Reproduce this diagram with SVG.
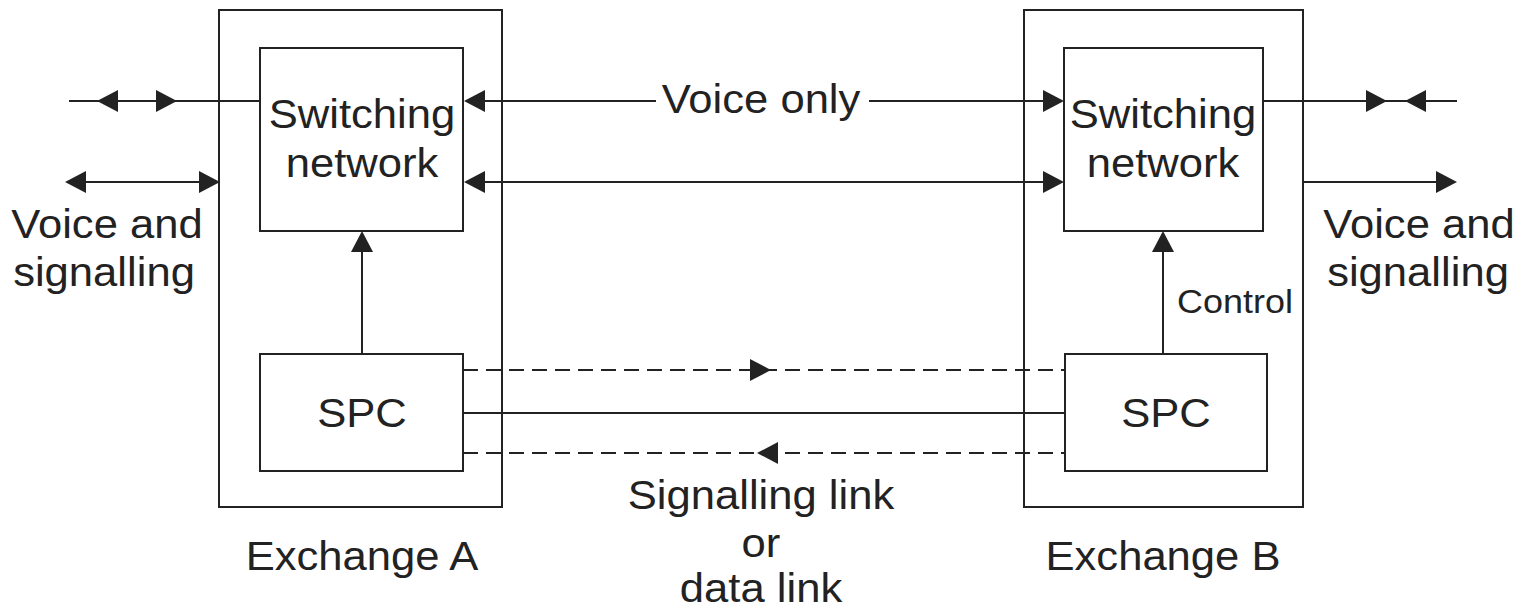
<svg xmlns="http://www.w3.org/2000/svg" width="1530" height="612" viewBox="0 0 1530 612">
<style>
.box{fill:none;stroke:#222;stroke-width:2}
.ln{fill:none;stroke:#222;stroke-width:2}
.dash{fill:none;stroke:#222;stroke-width:2;stroke-dasharray:15 8}
.ah{fill:#222}
text{font-family:"Liberation Sans",Arial,sans-serif;font-size:40px;fill:#222;text-anchor:middle}
.sm{font-size:33px}
</style>
<rect width="1530" height="612" fill="#fff"/>
<g id="exchangeA">
<rect class="box" x="219" y="10" width="283" height="497"/>
<text transform="translate(362 570) scale(1.09 1)">Exchange A</text>
</g>
<g id="switchA">
<rect class="box" x="260" y="48" width="203" height="183"/>
<text transform="translate(362 128) scale(1.09 1)">Switching</text>
<text transform="translate(362 177) scale(1.09 1)">network</text>
</g>
<g id="spcA">
<rect class="box" x="260" y="354" width="203" height="117"/>
<text transform="translate(362 427) scale(1.09 1)">SPC</text>
</g>
<g id="exchangeB">
<rect class="box" x="1024" y="10" width="279" height="497"/>
<text transform="translate(1163 570) scale(1.09 1)">Exchange B</text>
</g>
<g id="switchB">
<rect class="box" x="1064" y="48" width="199" height="183"/>
<text transform="translate(1163 128) scale(1.09 1)">Switching</text>
<text transform="translate(1163 177) scale(1.09 1)">network</text>
</g>
<g id="spcB">
<rect class="box" x="1065" y="354" width="202" height="117"/>
<text transform="translate(1166 427) scale(1.09 1)">SPC</text>
</g>
<g id="labels">
<text transform="translate(107 238) scale(1.09 1)">Voice and</text>
<text transform="translate(104 286) scale(1.09 1)">signalling</text>
<text transform="translate(1419 238) scale(1.09 1)">Voice and</text>
<text transform="translate(1418 286) scale(1.09 1)">signalling</text>
<text transform="translate(761 113) scale(1.09 1)">Voice only</text>
<text class="sm" transform="translate(1235 313) scale(1.09 1)">Control</text>
<text transform="translate(761 509) scale(1.09 1)">Signalling link</text>
<text transform="translate(761 557) scale(1.09 1)">or</text>
<text transform="translate(761 602) scale(1.09 1)">data link</text>
</g>
<g id="connectors">
<line class="ln" x1="69" y1="101" x2="260" y2="101"/>
<polygon class="ah" points="97,101 118,90 118,112"/>
<polygon class="ah" points="177,101 156,90 156,112"/>
<line class="ln" x1="70" y1="182" x2="215" y2="182"/>
<polygon class="ah" points="65,182 86,171 86,193"/>
<polygon class="ah" points="220,182 199,171 199,193"/>
<line class="ln" x1="470" y1="101" x2="656" y2="101"/>
<line class="ln" x1="869" y1="101" x2="1058" y2="101"/>
<polygon class="ah" points="464,101 485,90 485,112"/>
<polygon class="ah" points="1064,101 1043,90 1043,112"/>
<line class="ln" x1="470" y1="182" x2="1058" y2="182"/>
<polygon class="ah" points="464,182 485,171 485,193"/>
<polygon class="ah" points="1064,182 1043,171 1043,193"/>
<line class="ln" x1="1263" y1="101" x2="1457" y2="101"/>
<polygon class="ah" points="1387,101 1366,90 1366,112"/>
<polygon class="ah" points="1405,101 1426,90 1426,112"/>
<line class="ln" x1="1303" y1="182" x2="1452" y2="182"/>
<polygon class="ah" points="1457,182 1436,171 1436,193"/>
<line class="ln" x1="362" y1="354" x2="362" y2="240"/>
<polygon class="ah" points="362,231 351,252 373,252"/>
<line class="ln" x1="1163" y1="354" x2="1163" y2="240"/>
<polygon class="ah" points="1163,231 1152,252 1174,252"/>
<line class="dash" x1="463" y1="370" x2="1065" y2="370"/>
<polygon class="ah" points="771,370 750,359 750,381"/>
<line class="ln" x1="463" y1="413" x2="1065" y2="413"/>
<line class="dash" x1="463" y1="453" x2="1065" y2="453"/>
<polygon class="ah" points="757,453 778,442 778,464"/>
</g>
</svg>
